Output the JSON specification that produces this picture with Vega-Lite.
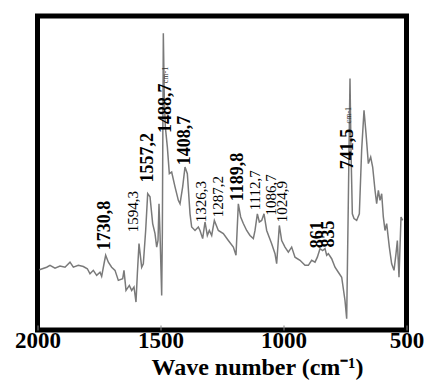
{
  "$schema": "https://vega.github.io/schema/vega-lite/v6.json",
  "width": 369,
  "height": 314,
  "autosize": {"type": "none"},
  "padding": {"left": 37.5, "top": 16, "right": 27.5, "bottom": 54},
  "background": "white",
  "config": {
    "view": {"stroke": "black", "strokeWidth": 5},
    "font": "Liberation Serif"
  },
  "datasets": {
    "spectrum": [
      {"wn": 1992.5, "t": 19.2}, {"wn": 1962.7, "t": 20.0}, {"wn": 1949.2, "t": 20.6}, {"wn": 1928.8, "t": 19.7},
      {"wn": 1908.5, "t": 20.4}, {"wn": 1888.2, "t": 20.0}, {"wn": 1867.9, "t": 21.6}, {"wn": 1854.3, "t": 20.0},
      {"wn": 1834.0, "t": 20.6}, {"wn": 1813.7, "t": 20.2}, {"wn": 1797.4, "t": 19.5}, {"wn": 1786.6, "t": 17.9},
      {"wn": 1773.0, "t": 19.0}, {"wn": 1759.5, "t": 17.4}, {"wn": 1745.9, "t": 18.4}, {"wn": 1739.2, "t": 17.1},
      {"wn": 1729.6, "t": 21.1}, {"wn": 1722.9, "t": 23.8}, {"wn": 1712.0, "t": 21.6}, {"wn": 1698.5, "t": 20.0},
      {"wn": 1684.9, "t": 19.0}, {"wn": 1671.4, "t": 15.8}, {"wn": 1653.8, "t": 16.3}, {"wn": 1648.4, "t": 19.0},
      {"wn": 1640.2, "t": 12.6}, {"wn": 1626.7, "t": 14.2}, {"wn": 1617.2, "t": 12.6}, {"wn": 1607.7, "t": 13.7},
      {"wn": 1599.6, "t": 8.9}, {"wn": 1594.1, "t": 17.9}, {"wn": 1587.4, "t": 27.5}, {"wn": 1576.5, "t": 20.0},
      {"wn": 1569.8, "t": 21.1}, {"wn": 1560.3, "t": 31.7}, {"wn": 1552.1, "t": 43.4}, {"wn": 1542.6, "t": 42.4},
      {"wn": 1531.8, "t": 33.9}, {"wn": 1522.3, "t": 30.7}, {"wn": 1515.5, "t": 26.4}, {"wn": 1510.1, "t": 28.5},
      {"wn": 1506.1, "t": 40.2}, {"wn": 1502.0, "t": 30.7}, {"wn": 1495.2, "t": 11.0}, {"wn": 1492.5, "t": 30.7},
      {"wn": 1488.5, "t": 94.5}, {"wn": 1484.4, "t": 73.2}, {"wn": 1480.3, "t": 64.7}, {"wn": 1472.2, "t": 58.3},
      {"wn": 1464.1, "t": 49.8}, {"wn": 1454.6, "t": 50.3}, {"wn": 1441.0, "t": 45.6}, {"wn": 1427.5, "t": 41.3},
      {"wn": 1420.7, "t": 40.2}, {"wn": 1409.9, "t": 45.6}, {"wn": 1400.4, "t": 51.9}, {"wn": 1390.9, "t": 49.8},
      {"wn": 1380.0, "t": 37.0}, {"wn": 1373.3, "t": 32.8}, {"wn": 1359.7, "t": 31.7}, {"wn": 1346.2, "t": 32.8},
      {"wn": 1339.4, "t": 31.7}, {"wn": 1328.6, "t": 29.1}, {"wn": 1319.1, "t": 34.4}, {"wn": 1309.6, "t": 30.1},
      {"wn": 1301.5, "t": 31.7}, {"wn": 1291.9, "t": 30.1}, {"wn": 1281.1, "t": 34.9}, {"wn": 1264.9, "t": 31.7},
      {"wn": 1244.6, "t": 30.7}, {"wn": 1224.2, "t": 28.5}, {"wn": 1203.9, "t": 26.4}, {"wn": 1193.1, "t": 23.8},
      {"wn": 1183.6, "t": 40.2}, {"wn": 1174.1, "t": 36.0}, {"wn": 1163.3, "t": 33.9}, {"wn": 1149.7, "t": 31.7},
      {"wn": 1136.2, "t": 30.1}, {"wn": 1122.6, "t": 29.1}, {"wn": 1115.8, "t": 31.7}, {"wn": 1106.3, "t": 37.0},
      {"wn": 1098.2, "t": 34.4}, {"wn": 1088.7, "t": 34.9}, {"wn": 1079.2, "t": 37.0}, {"wn": 1068.4, "t": 31.7},
      {"wn": 1048.1, "t": 27.5}, {"wn": 1034.5, "t": 24.3}, {"wn": 1027.8, "t": 21.1}, {"wn": 1016.9, "t": 33.3},
      {"wn": 1007.4, "t": 28.5}, {"wn": 993.9, "t": 26.4}, {"wn": 980.3, "t": 24.8}, {"wn": 966.8, "t": 26.4},
      {"wn": 953.3, "t": 23.2}, {"wn": 932.9, "t": 22.2}, {"wn": 912.6, "t": 20.6}, {"wn": 899.0, "t": 20.6},
      {"wn": 885.5, "t": 22.2}, {"wn": 871.9, "t": 21.6}, {"wn": 862.4, "t": 23.2}, {"wn": 851.6, "t": 25.9},
      {"wn": 840.8, "t": 25.3}, {"wn": 831.3, "t": 25.9}, {"wn": 824.5, "t": 23.8}, {"wn": 817.7, "t": 24.3},
      {"wn": 804.2, "t": 22.7}, {"wn": 790.6, "t": 20.0}, {"wn": 777.1, "t": 18.4}, {"wn": 763.5, "t": 16.8},
      {"wn": 750.0, "t": 9.4}, {"wn": 743.2, "t": 3.6}, {"wn": 736.4, "t": 41.3}, {"wn": 729.7, "t": 80.1},
      {"wn": 725.6, "t": 57.3}, {"wn": 720.2, "t": 37.0}, {"wn": 713.4, "t": 35.5}, {"wn": 702.6, "t": 34.9},
      {"wn": 691.7, "t": 37.0}, {"wn": 682.3, "t": 57.3}, {"wn": 672.7, "t": 70.0}, {"wn": 664.6, "t": 62.6},
      {"wn": 655.1, "t": 53.0}, {"wn": 645.6, "t": 55.1}, {"wn": 637.5, "t": 51.9}, {"wn": 628.0, "t": 44.5},
      {"wn": 621.3, "t": 40.2}, {"wn": 614.4, "t": 44.5}, {"wn": 607.7, "t": 41.3}, {"wn": 600.9, "t": 43.4},
      {"wn": 594.2, "t": 36.0}, {"wn": 587.4, "t": 31.7}, {"wn": 580.6, "t": 33.9}, {"wn": 569.8, "t": 26.4},
      {"wn": 560.3, "t": 21.1}, {"wn": 550.8, "t": 19.0}, {"wn": 542.6, "t": 24.3}, {"wn": 537.2, "t": 28.5},
      {"wn": 530.5, "t": 16.8}, {"wn": 522.3, "t": 36.0}, {"wn": 515.6, "t": 34.9}
    ],
    "peaks": [
      {"wn": 1725.6, "t": 25.4, "label": "1730,8", "kind": "major"},
      {"wn": 1613.8, "t": 31.1, "label": "1594,3", "kind": "minor"},
      {"wn": 1550.8, "t": 47.0, "label": "1557,2", "kind": "major"},
      {"wn": 1477.6, "t": 62.7, "label": "1488,7", "kind": "major"},
      {"wn": 1400.4, "t": 52.5, "label": "1408,7", "kind": "major"},
      {"wn": 1335.4, "t": 34.3, "label": "1326,3", "kind": "minor"},
      {"wn": 1266.3, "t": 35.9, "label": "1287,2", "kind": "minor"},
      {"wn": 1184.9, "t": 41.0, "label": "1189,8", "kind": "major"},
      {"wn": 1115.8, "t": 38.1, "label": "1112,7", "kind": "minor"},
      {"wn": 1050.8, "t": 36.5, "label": "1086,7", "kind": "minor"},
      {"wn": 1006.1, "t": 34.3, "label": "1024,9", "kind": "minor"},
      {"wn": 859.7, "t": 26.0, "label": "861", "kind": "major"},
      {"wn": 815.0, "t": 26.3, "label": "835", "kind": "major"},
      {"wn": 737.8, "t": 51.2, "label": "741,5", "kind": "major"}
    ],
    "units": [
      {"wn": 1477.6, "t": 78.6, "label": "cm-1"},
      {"wn": 733.7, "t": 65.8, "label": "cm-1"}
    ]
  },
  "encoding": {
    "x": {
      "field": "wn",
      "type": "quantitative",
      "scale": {"domain": [500, 2000], "reverse": true, "nice": false, "zero": false},
      "axis": {
        "values": [2000, 1500, 1000, 500],
        "format": "d",
        "title": "Wave number (cm⁻¹)",
        "domain": false,
        "grid": false,
        "ticks": true,
        "tickSize": -5,
        "tickColor": "#888888",
        "tickWidth": 1,
        "labelFont": "Liberation Serif",
        "labelFontWeight": "bold",
        "labelFontSize": 23,
        "labelColor": "black",
        "labelBaseline": "alphabetic",
        "labelPadding": 22,
        "labelFlush": false,
        "labelOverlap": false,
        "titleFont": "Liberation Serif",
        "titleFontWeight": "bold",
        "titleFontSize": 24,
        "titleColor": "black",
        "titleBaseline": "alphabetic",
        "titleAlign": "center",
        "titleX": 219.5,
        "titleY": 44.5,
        "encode": {
          "labels": {
            "update": {
              "dx": {"signal": "datum.value == 1500 ? 9 : datum.value == 1000 ? 11 : datum.value == 500 ? 4 : -1"}
            }
          }
        }
      }
    },
    "y": {
      "field": "t",
      "type": "quantitative",
      "scale": {"domain": [0, 100], "nice": false, "zero": false},
      "axis": null
    }
  },
  "layer": [
    {
      "data": {"name": "spectrum"},
      "mark": {"type": "line", "color": "#7a7a7a", "strokeWidth": 1.5, "clip": true}
    },
    {
      "data": {"name": "peaks"},
      "transform": [{"filter": "datum.kind == 'major'"}],
      "mark": {"type": "text", "angle": 270, "align": "left", "baseline": "middle", "font": "Liberation Serif", "fontWeight": "bold", "fontSize": 18, "color": "black"},
      "encoding": {"text": {"field": "label"}}
    },
    {
      "data": {"name": "peaks"},
      "transform": [{"filter": "datum.kind == 'minor'"}],
      "mark": {"type": "text", "angle": 270, "align": "left", "baseline": "middle", "font": "Liberation Serif", "fontWeight": "normal", "fontSize": 15, "color": "black"},
      "encoding": {"text": {"field": "label"}}
    },
    {
      "data": {"name": "units"},
      "mark": {"type": "text", "angle": 270, "align": "left", "baseline": "middle", "font": "Liberation Serif", "fontSize": 8, "color": "#333333"},
      "encoding": {"text": {"field": "label"}}
    }
  ]
}
